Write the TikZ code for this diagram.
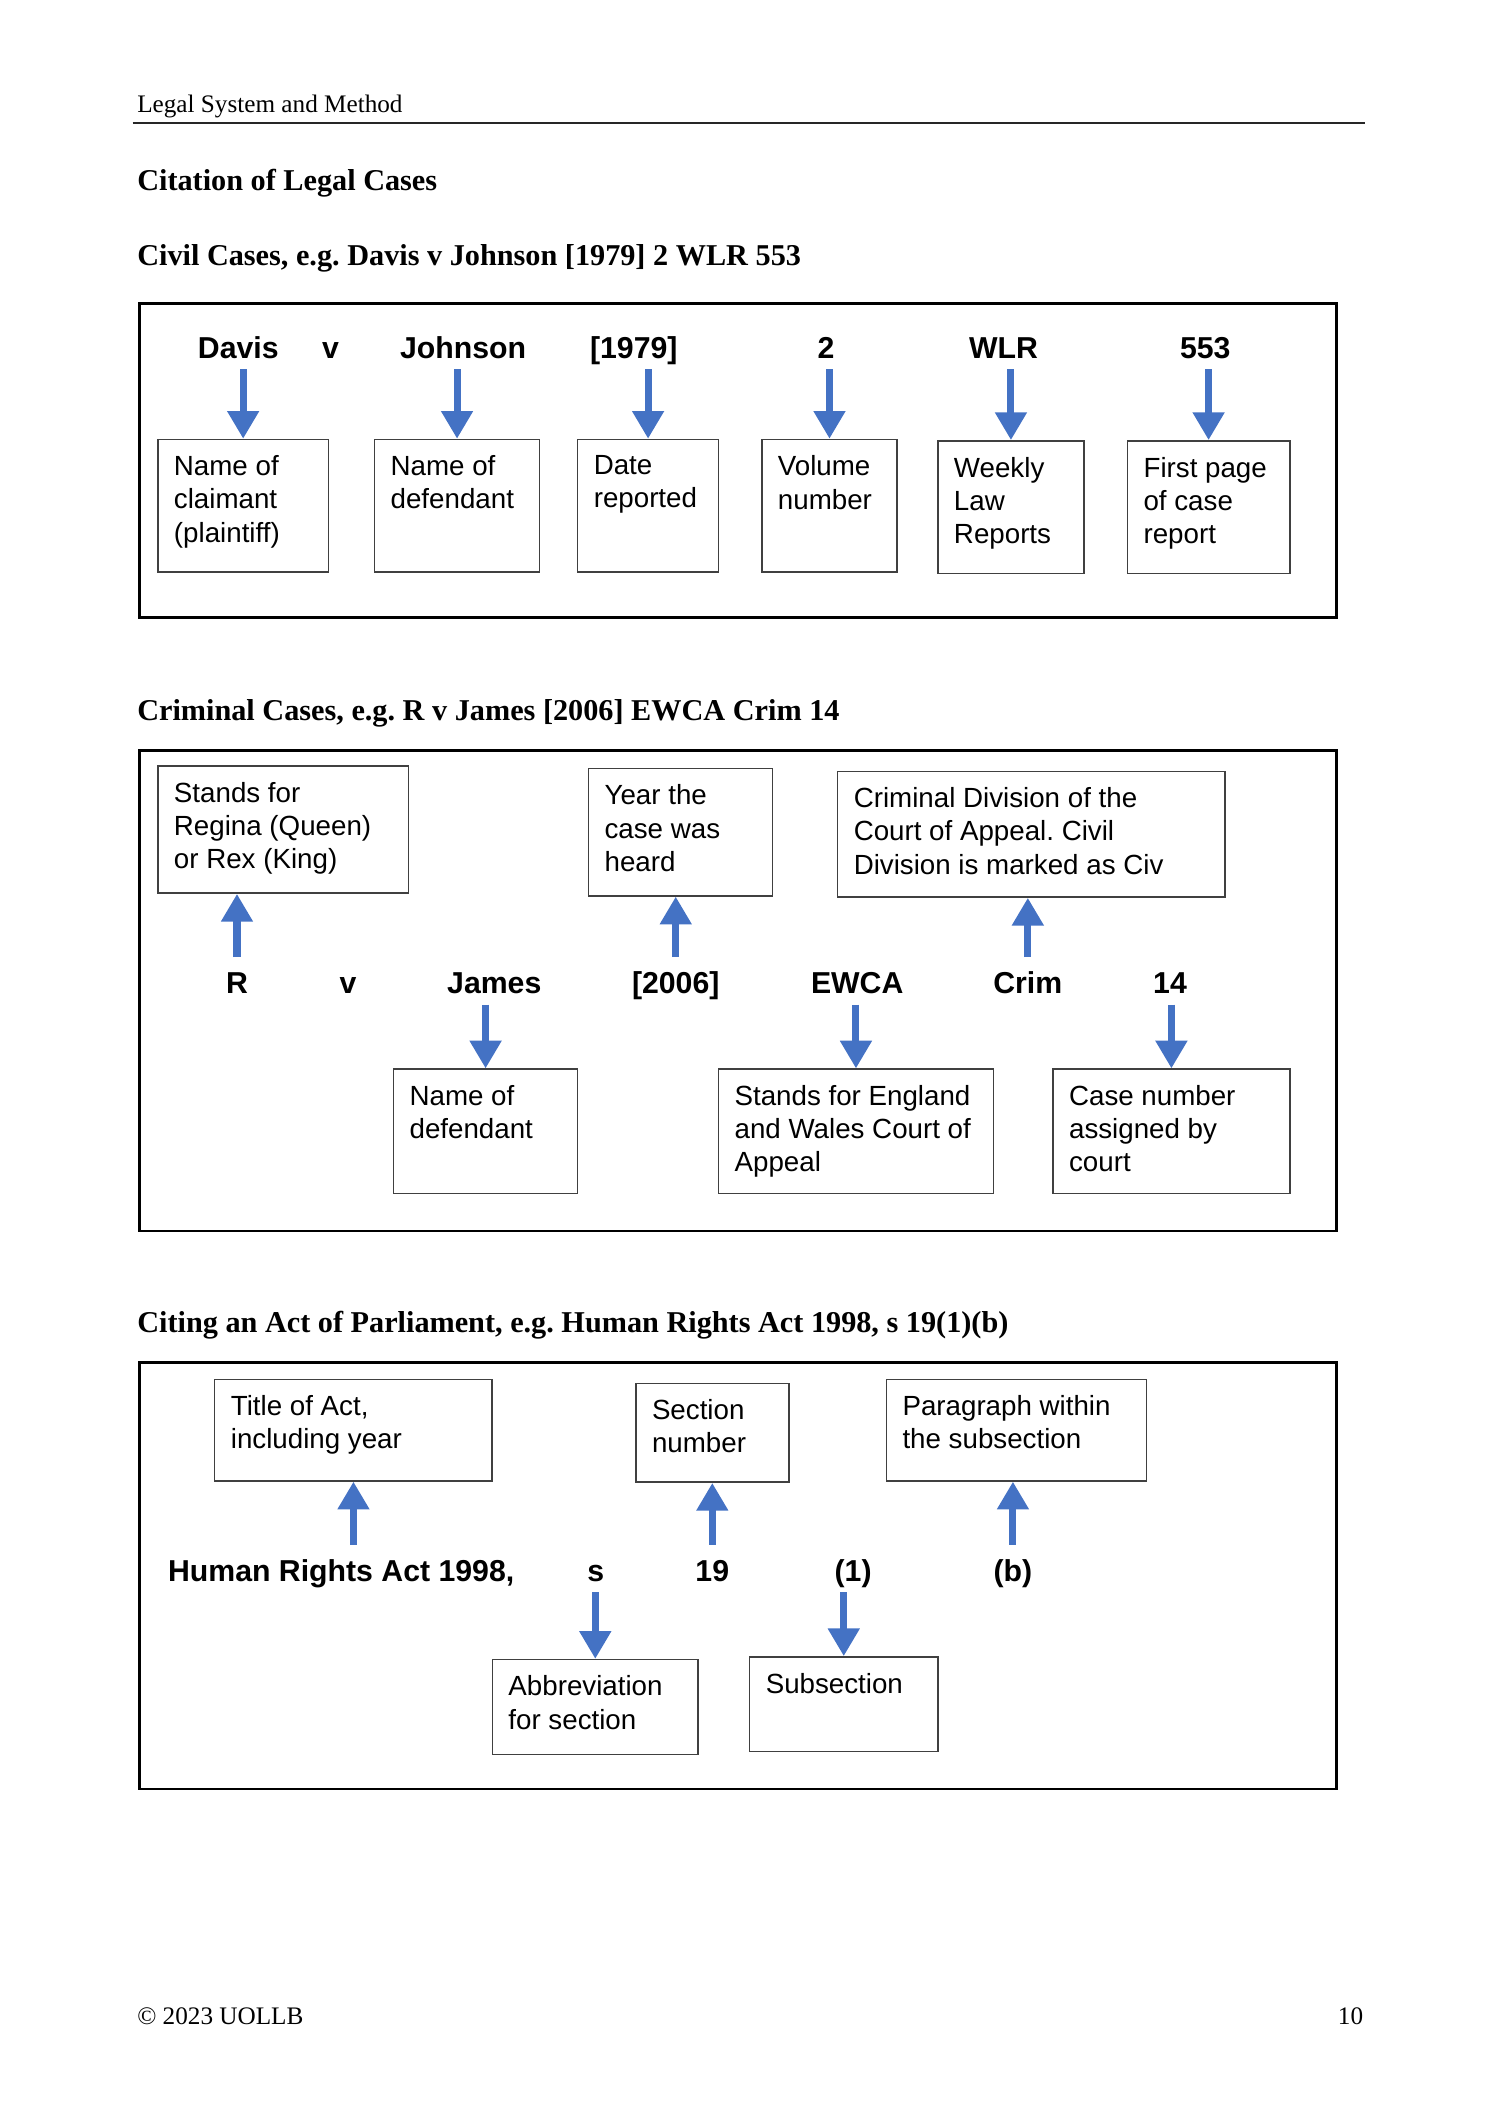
\documentclass[tikz,border=0pt]{standalone}
\usepackage{fontspec}
\setmainfont{Liberation Serif}
\newfontfamily\arialfont{Liberation Sans}
\usetikzlibrary{arrows.meta}
\definecolor{arrowblue}{HTML}{4472C4}
\frenchspacing

\begin{document}
\begin{tikzpicture}[x=0.5373pt,y=-0.5373pt,
    heading/.style={anchor=base west,inner sep=0pt,font=\bfseries\fontsize{12}{14}\selectfont},
    pagetext/.style={inner sep=0pt,font=\fontsize{10}{12}\selectfont},
    cite/.style={anchor=base,inner sep=2pt,text height=8.4pt,text depth=0pt,font=\arialfont\bfseries\fontsize{12}{14}\selectfont},
    note/.style={draw=black!75,line width=0.6pt,anchor=north west,inner sep=0pt},
    notetext/.style={anchor=north west,inner xsep=6.5pt,inner ysep=6.5pt,align=left,font=\arialfont\fontsize{11}{13.2}\selectfont},
    frame/.style={draw=black,line width=1.1pt},
    down/.style={draw=arrowblue,line width=2.8pt,shorten <=2pt,-{Triangle[width=12pt,length=11pt]}},
    up/.style={draw=arrowblue,line width=2.8pt,shorten <=4pt,-{Triangle[width=12pt,length=11pt]}}]
    \useasboundingbox (0,0) rectangle (1108,1567);

    % page header and footer
    \node[pagetext,anchor=base west] (runhead) at (101,83) {Legal System and Method};
    \draw[line width=0.9pt,black!85] (98,91) -- (1008,91);
    \node[pagetext,anchor=base west] (copyright) at (101,1495) {\textcopyright{} 2023 UOLLB};
    \node[pagetext,anchor=base east] (pageno) at (1007,1495) {10};

    \node[heading] (title) at (101,141) {Citation of Legal Cases};

    % civil cases
    \node[heading] (civilhead) at (101,196) {Civil Cases, e.g. Davis v Johnson [1979] 2 WLR 553};
    \draw[frame] (103,224) rectangle (987,456);

    \node[cite] (davis) at (176,265) {Davis};
    \node[cite] (cv) at (244,265) {v};
    \node[cite] (johnson) at (342,265) {Johnson};
    \node[cite] (y1979) at (468,265) {[1979]};
    \node[cite] (two) at (610,265) {2};
    \node[cite] (wlr) at (741,265) {WLR};
    \node[cite] (p553) at (890,265) {553};

    \node[note,minimum width=67.7pt,minimum height=52.6pt,label={[notetext]north west:{Name of\\claimant\\(plaintiff)}}] (claimant) at (116,324) {};
    \node[note,minimum width=65.5pt,minimum height=52.6pt,label={[notetext]north west:{Name of\\defendant}}] (cdefendant) at (276,324) {};
    \node[note,minimum width=55.9pt,minimum height=52.6pt,label={[notetext]north west:{Date\\reported}}] (dated) at (426,324) {};
    \node[note,minimum width=53.7pt,minimum height=52.6pt,label={[notetext]north west:{Volume\\number}}] (volume) at (562,324) {};
    \node[note,minimum width=58pt,minimum height=52.6pt,label={[notetext]north west:{Weekly\\Law\\Reports}}] (weekly) at (692,325) {};
    \node[note,minimum width=64.4pt,minimum height=52.6pt,label={[notetext]north west:{First page\\of case\\report}}] (firstpage) at (832,325) {};

    \draw[down] (davis.south -| claimant) -- (claimant);
    \draw[down] (johnson.south -| cdefendant) -- (cdefendant);
    \draw[down] (y1979.south -| dated) -- (dated);
    \draw[down] (two.south -| volume) -- (volume);
    \draw[down] (wlr.south -| weekly) -- (weekly);
    \draw[down] (p553.south -| firstpage) -- (firstpage);

    % criminal cases
    \node[heading] (crimhead) at (101,532) {Criminal Cases, e.g. R v James [2006] EWCA Crim 14};
    \draw[frame] (103,554) rectangle (987,909);

    \node[note,minimum width=99.4pt,minimum height=50.5pt,label={[notetext]north west:{Stands for\\Regina (Queen)\\or Rex (King)}}] (regina) at (116,565) {};
    \node[note,minimum width=73.1pt,minimum height=50.5pt,label={[notetext]north west:{Year the\\case was\\heard}}] (yearheard) at (434,567) {};
    \node[note,minimum width=153.7pt,minimum height=49.9pt,label={[notetext]north west:{Criminal Division of the\\Court of Appeal. Civil\\Division is marked as Civ}}] (crimdiv) at (618,569) {};

    \node[cite] (r) at (175,734) {R};
    \node[cite] (rv) at (257,734) {v};
    \node[cite] (james) at (365,734) {James};
    \node[cite] (y2006) at (499,734) {[2006]};
    \node[cite] (ewca) at (633,734) {EWCA};
    \node[cite] (crim) at (759,734) {Crim};
    \node[cite] (n14) at (864,734) {14};

    \node[note,minimum width=73.1pt,minimum height=49.4pt,label={[notetext]north west:{Name of\\defendant}}] (jdefendant) at (290,789) {};
    \node[note,minimum width=109.1pt,minimum height=49.4pt,label={[notetext]north west:{Stands for England\\and Wales Court of\\Appeal}}] (england) at (530,789) {};
    \node[note,minimum width=94pt,minimum height=49.4pt,label={[notetext]north west:{Case number\\assigned by\\court}}] (casenumber) at (777,789) {};

    \draw[up] (r.north) -- (r.north |- regina.south);
    \draw[up] (y2006.north) -- (y2006.north |- yearheard.south);
    \draw[up] (crim.north) -- (crim.north |- crimdiv.south);
    \draw[down] (james.south -| jdefendant) -- (jdefendant);
    \draw[down] (ewca.south -| england) -- (england);
    \draw[down] (n14.south -| casenumber) -- (casenumber);

    % act of parliament
    \node[heading] (acthead) at (101,984) {Citing an Act of Parliament, e.g. Human Rights Act 1998, s 19(1)(b)};
    \draw[frame] (103,1006) rectangle (987,1321);

    \node[note,minimum width=110.1pt,minimum height=40.3pt,label={[notetext]north west:{Title of Act,\\including year}}] (acttitle) at (158,1018) {};
    \node[note,minimum width=60.8pt,minimum height=39.2pt,label={[notetext]north west:{Section\\number}}] (secnumber) at (469,1021) {};
    \node[note,minimum width=103.2pt,minimum height=40.3pt,label={[notetext]north west:{Paragraph within\\the subsection}}] (paragraph) at (654,1018) {};

    \node[cite,anchor=base west] (hra) at (120,1168) {Human Rights Act 1998,};
    \node[cite] (s) at (440,1168) {s};
    \node[cite] (n19) at (526,1168) {19};
    \node[cite] (sub1) at (630,1168) {(1)};
    \node[cite] (parb) at (748,1168) {(b)};

    \node[note,minimum width=81.7pt,minimum height=37.6pt,label={[notetext]north west:{Abbreviation\\for section}}] (abbrev) at (363,1225) {};
    \node[note,minimum width=74.7pt,minimum height=37.6pt,label={[notetext]north west:{Subsection}}] (subsection) at (553,1223) {};

    \draw[up] (hra.north -| acttitle) -- (acttitle);
    \draw[up] (n19.north) -- (n19.north |- secnumber.south);
    \draw[up] (parb.north) -- (parb.north |- paragraph.south);
    \draw[down] (s.south -| abbrev) -- (abbrev);
    \draw[down] (sub1.south -| subsection) -- (subsection);
\end{tikzpicture}
\end{document}
